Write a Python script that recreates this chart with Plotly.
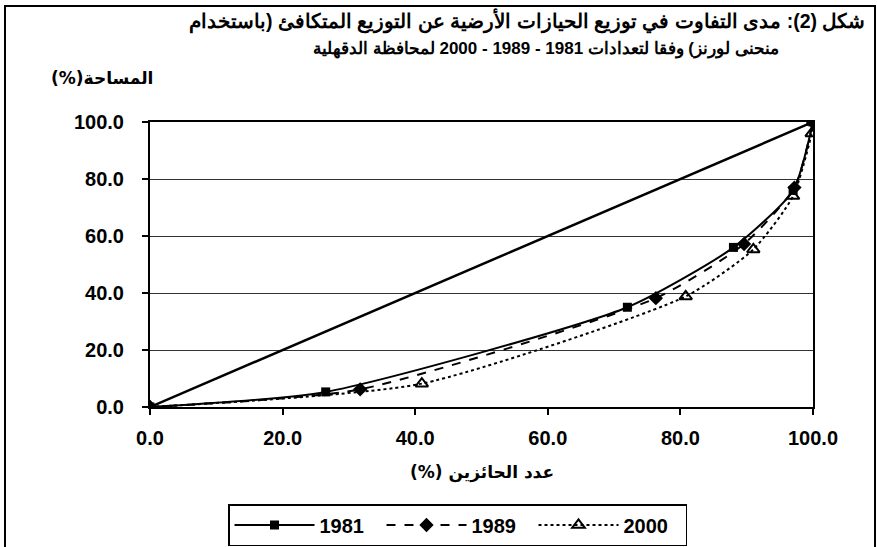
import plotly.graph_objects as go

# ---- data ----
x_1981 = [0, 26.5, 72.0, 88.0, 97.0, 100.0]
y_1981 = [0, 5.3, 35.0, 56.0, 76.0, 100.0]

x_1989 = [0, 31.7, 76.3, 89.6, 97.2, 100.0]
y_1989 = [0, 6.2, 38.2, 57.2, 77.0, 100.0]

x_2000 = [0, 41.0, 80.8, 91.0, 97.0, 99.8, 100.0]
y_2000 = [0, 8.2, 38.8, 55.3, 74.0, 96.0, 100.0]

x_equal = [0, 100]
y_equal = [0, 100]

tick_vals = [0, 20, 40, 60, 80, 100]
tick_text = ["0.0", "20.0", "40.0", "60.0", "80.0", "100.0"]

title_line1 = "شكل (2): مدى التفاوت في توزيع الحيازات الأرضية عن التوزيع المتكافئ (باستخدام"
title_line2 = "منحنى لورنز) وفقا لتعدادات 1981 - 1989 - 2000 لمحافظة الدقهلية"
y_title = "المساحة(%)\u200f"
x_title = "عدد الحائزين (%)\u200f"

FONT = "Liberation Sans, Arial, sans-serif"
AFONT = "DejaVu Sans, sans-serif"

fig = go.Figure()

fig.add_trace(go.Scatter(
    x=x_equal, y=y_equal, mode="lines", showlegend=False,
    line=dict(color="black", width=2.5), hoverinfo="skip"))

fig.add_trace(go.Scatter(
    x=x_1981, y=y_1981, mode="lines+markers", name="1981",
    line=dict(color="black", width=2, shape="spline", smoothing=0.6),
    marker=dict(symbol="square", size=9, color="black")))

fig.add_trace(go.Scatter(
    x=x_1989, y=y_1989, mode="lines+markers", name="1989",
    line=dict(color="black", width=2, dash="dash", shape="spline", smoothing=0.6),
    marker=dict(symbol="diamond", size=11, color="black")))

fig.add_trace(go.Scatter(
    x=x_2000, y=y_2000, mode="lines+markers", name="2000",
    line=dict(color="black", width=2, dash="dot", shape="spline", smoothing=0.6),
    marker=dict(symbol="triangle-up-open", size=11, color="black",
                line=dict(width=2, color="black"))))

axis_common = dict(
    range=[0, 100], tickvals=tick_vals, ticktext=tick_text,
    showline=True, linecolor="black", linewidth=2, mirror=True,
    ticks="outside", tickcolor="black", ticklen=6, tickwidth=1.5,
    tickfont=dict(family=FONT, size=20, color="black", weight="bold"),
    zeroline=False, automargin=False,
)

fig.update_xaxes(**axis_common, showgrid=False, ticklabelstandoff=6)
fig.update_yaxes(**axis_common, showgrid=True, gridcolor="#333333", gridwidth=1.2,
                 ticklabelstandoff=14)

W, H = 877, 547
L, R, T, B = 150, 64, 122, 140
ph = H - T - B
pw = W - L - R
PLOT_TOP, PLOT_BOTTOM = T, H - B

def ann(text, cx, cy, size, family, ref_top=True):
    # cx, cy: target centre in page pixels
    if ref_top:
        y, ys = 1, PLOT_TOP - cy
    else:
        y, ys = 0, PLOT_BOTTOM - cy
    return dict(text=text, xref="paper", yref="paper", x=0, y=y,
                xshift=cx - L, yshift=ys, showarrow=False,
                xanchor="center", yanchor="middle",
                font=dict(family=family, size=size, color="black", weight="bold"))

annotations = [
    ann(title_line1, 527, 21, 19.5, FONT),
    ann(title_line2, 546, 49, 17, FONT),
    ann(y_title, 102, 78, 17, AFONT),
    ann(x_title, 482, 472, 17, AFONT, ref_top=False),
]

fig.update_layout(
    width=W, height=H,
    margin=dict(l=L, r=R, t=T, b=B, autoexpand=False),
    paper_bgcolor="white", plot_bgcolor="white",
    annotations=annotations,
    showlegend=True,
    legend=dict(orientation="h", xref="container", yref="container",
                x=228 / W, y=1 - 504 / H,
                xanchor="left", yanchor="top",
                bordercolor="black", borderwidth=1.5, bgcolor="white",
                font=dict(family=FONT, size=20, color="black", weight="bold"),
                itemwidth=80, entrywidth=57, entrywidthmode="pixels"),
    shapes=[dict(type="rect", xref="paper", yref="paper",
                 x0=(5 - L) / pw, x1=(875 - L) / pw,
                 y0=-1.5, y1=1 + (T - 6) / ph,
                 line=dict(color="black", width=2), layer="below")],
)

fig.write_html("out.html",
               config={"displayModeBar": False},
               post_script="document.body.style.margin='0';document.body.style.overflow='hidden';")
